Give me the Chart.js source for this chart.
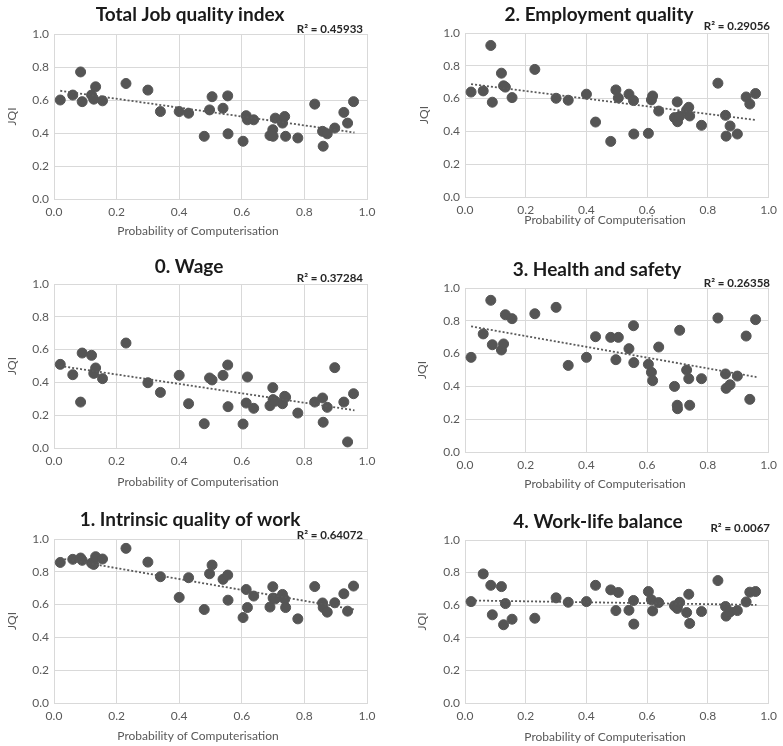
<!DOCTYPE html>
<html>
<head>
<meta charset="utf-8">
<script src="https://cdn.jsdelivr.net/npm/chart.js@4/dist/chart.umd.min.js"></script>
<style>
  html, body { margin: 0; padding: 0; background: #fff; overflow: hidden; }
  body { width: 783px; height: 746px; position: relative; }
  .panel { position: absolute; }
</style>
</head>
<body>
<canvas id="c0" class="panel"></canvas>
<canvas id="c1" class="panel"></canvas>
<canvas id="c2" class="panel"></canvas>
<canvas id="c3" class="panel"></canvas>
<canvas id="c4" class="panel"></canvas>
<canvas id="c5" class="panel"></canvas>
<script>
// Probability of computerisation (shared x for every occupation)
const probability = [0.02, 0.06, 0.085, 0.09, 0.12, 0.127, 0.133, 0.155, 0.23, 0.30,
    0.34, 0.40, 0.43, 0.48, 0.497, 0.505, 0.54, 0.555, 0.556, 0.604,
    0.614, 0.618, 0.638, 0.69, 0.699, 0.70, 0.707, 0.73, 0.737, 0.74,
    0.779, 0.833, 0.858, 0.86, 0.873, 0.897, 0.926, 0.938, 0.957];

const totalJqi = [0.60, 0.63, 0.77, 0.59, 0.63, 0.605, 0.68, 0.595, 0.70, 0.66,
    0.53, 0.53, 0.52, 0.38, 0.54, 0.62, 0.55, 0.625, 0.395, 0.35,
    0.505, 0.48, 0.48, 0.385, 0.42, 0.38, 0.49, 0.46, 0.50, 0.38,
    0.37, 0.575, 0.41, 0.32, 0.395, 0.43, 0.525, 0.46, 0.59];

const employment = [0.64, 0.647, 0.924, 0.578, 0.755, 0.678, 0.67, 0.606, 0.778, 0.602,
    0.59, 0.627, 0.457, 0.339, 0.653, 0.604, 0.627, 0.588, 0.384, 0.388,
    0.592, 0.616, 0.524, 0.484, 0.58, 0.459, 0.492, 0.531, 0.547, 0.494,
    0.437, 0.694, 0.498, 0.371, 0.433, 0.384, 0.61, 0.567, 0.631];

const wage = [0.51, 0.447, 0.28, 0.579, 0.565, 0.455, 0.488, 0.423, 0.64, 0.398,
    0.339, 0.443, 0.27, 0.148, 0.427, 0.415, 0.443, 0.506, 0.252, 0.146,
    0.274, 0.433, 0.242, 0.258, 0.368, 0.295, 0.285, 0.27, 0.315, 0.31,
    0.213, 0.28, 0.305, 0.157, 0.248, 0.49, 0.28, 0.037, 0.331];

const healthSafety = [0.577, 0.72, 0.925, 0.654, 0.622, 0.659, 0.837, 0.813, 0.843, 0.882,
    0.528, 0.577, 0.703, 0.699, 0.563, 0.699, 0.63, 0.77, 0.545, 0.535,
    0.486, 0.435, 0.64, 0.40, 0.285, 0.264, 0.742, 0.50, 0.447, 0.285,
    0.447, 0.817, 0.476, 0.388, 0.41, 0.463, 0.707, 0.321, 0.807];

const intrinsic = [0.857, 0.876, 0.884, 0.87, 0.853, 0.845, 0.892, 0.878, 0.943, 0.859,
    0.77, 0.644, 0.764, 0.57, 0.788, 0.841, 0.754, 0.78, 0.627, 0.521,
    0.692, 0.582, 0.652, 0.585, 0.709, 0.64, 0.635, 0.662, 0.633, 0.582,
    0.513, 0.71, 0.61, 0.582, 0.554, 0.611, 0.666, 0.56, 0.713];

const workLife = [0.622, 0.792, 0.722, 0.541, 0.714, 0.48, 0.61, 0.514, 0.52, 0.645,
    0.618, 0.622, 0.722, 0.694, 0.567, 0.678, 0.569, 0.629, 0.484, 0.684,
    0.633, 0.565, 0.616, 0.596, 0.58, 0.596, 0.618, 0.555, 0.667, 0.488,
    0.561, 0.751, 0.592, 0.533, 0.559, 0.567, 0.62, 0.68, 0.684];

// Linear trendline end points (x from 0.02 to 0.96)
const trendX = [0.02, 0.96];
const trendTotal = [0.656, 0.403];
const trendEmployment = [0.688, 0.469];
const trendWage = [0.50, 0.23];
const trendHealth = [0.766, 0.457];
const trendIntrinsic = [0.882, 0.57];
const trendWorkLife = [0.629, 0.602];

const titles = ['Total Job quality index', '2. Employment quality', '0. Wage',
    '3. Health and safety', '1. Intrinsic quality of work', '4. Work-life balance'];
const rSquared = ['R\u00B2 = 0.45933', 'R\u00B2 = 0.29056', 'R\u00B2 = 0.37284',
    'R\u00B2 = 0.26358', 'R\u00B2 = 0.64072', 'R\u00B2 = 0.0067'];
const axisTicks = [0, 0.2, 0.4, 0.6, 0.8, 1.0];

const series = [totalJqi, employment, wage, healthSafety, intrinsic, workLife];
const trends = [trendTotal, trendEmployment, trendWage, trendHealth, trendIntrinsic, trendWorkLife];

// panel placement: canvas box and the plot area inside it
const panels = [
    { left: 0,   top: 0,   w: 392, h: 245, L: 54, R: 367, T: 34, B: 199, titleX: 190, titleY: 15, r2Y: 29, r2R: 363, jqiX: 12, axisX: 198, axisY: 231 },
    { left: 392, top: 0,   w: 391, h: 245, L: 73, R: 382, T: 33, B: 197, titleX: 207, titleY: 15, r2Y: 26, r2R: 378, jqiX: 32, axisX: 213, axisY: 220 },
    { left: 0,   top: 245, w: 392, h: 255, L: 54, R: 367, T: 39, B: 203, titleX: 189, titleY: 22, r2Y: 33, r2R: 363, jqiX: 12, axisX: 198, axisY: 237 },
    { left: 392, top: 245, w: 391, h: 255, L: 73, R: 382, T: 43, B: 207, titleX: 205, titleY: 25, r2Y: 38, r2R: 378, jqiX: 30, axisX: 213, axisY: 239 },
    { left: 0,   top: 500, w: 392, h: 246, L: 54, R: 367, T: 39, B: 203, titleX: 190, titleY: 20, r2Y: 35, r2R: 363, jqiX: 12, axisX: 198, axisY: 236 },
    { left: 392, top: 500, w: 391, h: 246, L: 73, R: 382, T: 40, B: 203, titleX: 206, titleY: 22, r2Y: 28, r2R: 378, jqiX: 30, axisX: 213, axisY: 237 }
];

const gridColor = '#d9d9d9';
const textColor = '#595959';
const markColor = '#555555';

// draws panel title, R² label and axis titles
const panelText = {
    id: 'panelText',
    afterDraw(chart, args, opts) {
        const ctx = chart.ctx;
        const p = opts.panel;
        ctx.save();
        ctx.textBaseline = 'middle';
        ctx.textAlign = 'center';
        ctx.fillStyle = '#1a1a1a';
        ctx.font = 'bold 19px Lato';
        ctx.fillText(opts.title, p.titleX, p.titleY);

        ctx.textAlign = 'right';
        ctx.fillStyle = '#262626';
        ctx.font = 'bold 11.5px Lato';
        ctx.fillText(opts.r2, p.r2R, p.r2Y);

        ctx.textAlign = 'center';
        ctx.fillStyle = textColor;
        ctx.font = '12px Lato';
        ctx.fillText('Probability of Computerisation', p.axisX, p.axisY);

        ctx.translate(p.jqiX, (p.T + p.B) / 2);
        ctx.rotate(-Math.PI / 2);
        ctx.fillText('JQI', 0, 0);
        ctx.restore();
    }
};

panels.forEach((p, i) => {
    const canvas = document.getElementById('c' + i);
    canvas.width = p.w;
    canvas.height = p.h;
    canvas.style.left = p.left + 'px';
    canvas.style.top = p.top + 'px';
    canvas.style.width = p.w + 'px';
    canvas.style.height = p.h + 'px';

    const points = probability.map((x, k) => ({ x: x, y: series[i][k] }));
    const trend = trendX.map((x, k) => ({ x: x, y: trends[i][k] }));

    new Chart(canvas, {
        type: 'scatter',
        data: {
            datasets: [
                {
                    type: 'line',
                    data: trend,
                    borderColor: '#595959',
                    borderWidth: 1.8,
                    borderDash: [2, 2],
                    pointRadius: 0,
                    fill: false,
                    order: 0
                },
                {
                    data: points,
                    backgroundColor: markColor,
                    borderColor: markColor,
                    pointRadius: 5,
                    pointHoverRadius: 5,
                    order: 1
                }
            ]
        },
        options: {
            responsive: false,
            animation: false,
            devicePixelRatio: 1,
            layout: { padding: { left: 0, top: p.T, right: p.w - p.R, bottom: 0 } },
            plugins: {
                legend: { display: false },
                tooltip: { enabled: false },
                panelText: { panel: p, title: titles[i], r2: rSquared[i] }
            },
            scales: {
                x: {
                    type: 'linear',
                    min: 0,
                    max: 1,
                    afterBuildTicks: (scale) => { scale.ticks = axisTicks.map(v => ({ value: v })); },
                    afterFit: (scale) => { scale.height = p.h - p.B; },
                    ticks: { color: textColor, font: { family: 'Lato', size: 12 }, padding: 6, callback: v => v.toFixed(1), maxRotation: 0 },
                    grid: { color: gridColor, drawTicks: false },
                    border: { color: gridColor }
                },
                y: {
                    min: 0,
                    max: 1,
                    afterBuildTicks: (scale) => { scale.ticks = axisTicks.map(v => ({ value: v })); },
                    afterFit: (scale) => { scale.width = p.L; },
                    ticks: { color: textColor, font: { family: 'Lato', size: 12 }, padding: 5, callback: v => v.toFixed(1) },
                    grid: { color: gridColor, drawTicks: false },
                    border: { color: gridColor }
                }
            }
        },
        plugins: [panelText]
    });
});
</script>
</body>
</html>
